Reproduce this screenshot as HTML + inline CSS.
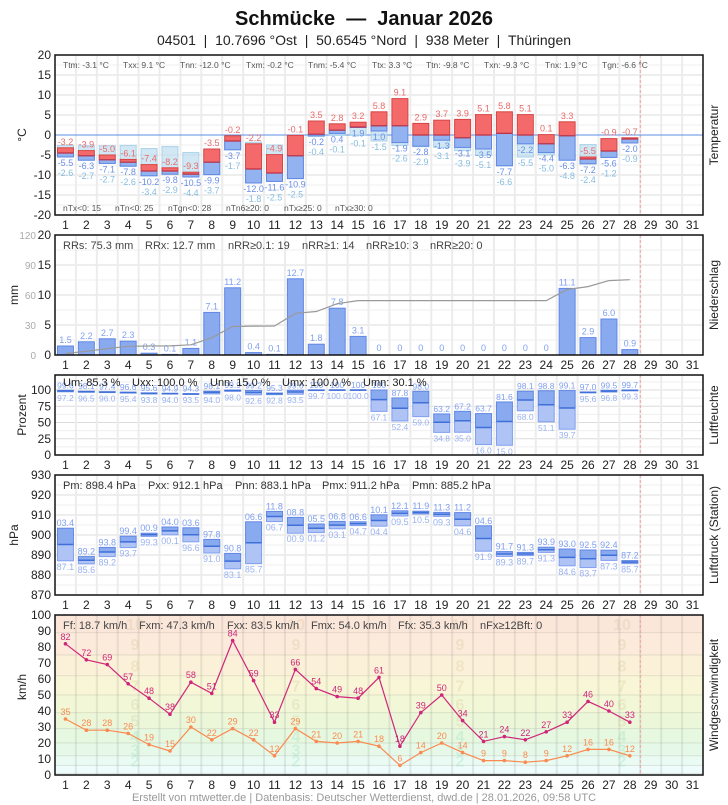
<!DOCTYPE html>
<html><head><meta charset="utf-8"><style>
html,body{margin:0;padding:0;background:#fff;}
svg{display:block;font-family:"Liberation Sans",sans-serif;}
</style></head><body>
<svg id="s" width="728" height="805" xmlns="http://www.w3.org/2000/svg"></svg>
<script>
const S=document.getElementById('s');let h='';
const L=55,R=703,CW=(R-L)/31;
const cx=d=>L+(d-0.5)*CW;
function t(x,y,s,o){o=o||{};h+=`<text x="${x}" y="${y}" font-size="${o.fs||11}" fill="${o.c||'#333'}" text-anchor="${o.a||'start'}"${o.fw?` font-weight="${o.fw}"`:''}${o.tr?` transform="${o.tr}"`:''}>${s}</text>`;}
function r(x,y,w,hh,f,st,sw){h+=`<rect x="${x}" y="${y}" width="${w}" height="${Math.max(hh,0.5)}" fill="${f}" stroke="${st||'none'}" stroke-width="${sw||1}"/>`;}
function ln(x1,y1,x2,y2,c,w,extra){h+=`<line x1="${x1}" y1="${y1}" x2="${x2}" y2="${y2}" stroke="${c}" stroke-width="${w||1}" ${extra||''}/>`;}
t(364,25,'Schmücke &#160;—&#160; Januar 2026',{fs:20,fw:'bold',a:'middle',c:'#111'});
t(364,45,'04501 &#160;| &#160;10.7696 °Ost &#160;| &#160;50.6545 °Nord &#160;| &#160;938 Meter &#160;| &#160;Thüringen',{fs:14,a:'middle',c:'#222'});
function panel(top,bot,vcol){
  for(let d=1;d<31;d++){ln(L+d*CW,top,L+d*CW,bot,vcol||'#ececec',2);}
  ln(L+28*CW,top,L+28*CW,bot,'#f4a0a0',1,'stroke-dasharray="3,2"');
}
function frame(top,bot){h+=`<rect x="${L}" y="${top}" width="${R-L}" height="${bot-top}" fill="none" stroke="#111" stroke-width="1.5"/>`;
 for(let d=1;d<=31;d++)t(cx(d),bot+14,d,{fs:12,a:'middle',c:'#222'});}
function ylab(x,y,s){t(x,y,s,{fs:12,a:'middle',tr:`rotate(-90 ${x} ${y})`,c:'#222'});}
function rlab(y,s){t(718,y,s,{fs:12,a:'middle',tr:`rotate(-90 718 ${y})`,c:'#222'});}
const BL='#6a8ee6';
{const top=55,bot=215,y=v=>135-v*4;
 for(let v=-20;v<=20;v+=2.5)ln(L,y(v),R,y(v),v%5==0?'#dcdcdc':'#efefef',1);
 panel(top,bot);
 ln(L,135,R,135,'#5b8ee6',1);
 const T=[[-3.2,-5.5,-2.6],[-3.9,-6.3,-2.7],[-5.0,-7.1,-2.7],[-6.1,-7.8,-2.6],[-7.4,-10.2,-3.4],[-8.2,-9.8,-2.9],[-9.3,-10.5,-4.4],[-3.5,-9.9,-3.7],[-0.2,-3.7,-1.7],[-2.2,-12.0,-1.8],[-4.9,-11.6,-2.5],[-0.1,-10.9,-2.5],[3.5,-0.2,-0.4],[2.8,0.4,-0.1],[3.2,1.9,-0.1],[5.8,1.0,-1.5],[9.1,-1.9,-2.6],[2.9,-2.8,-2.9],[3.7,-1.3,-3.1],[3.9,-3.1,-3.9],[5.1,-3.5,-5.1],[5.8,-7.7,-6.6],[5.1,-2.2,-5.5],[0.1,-4.4,-5.0],[3.3,-6.3,-4.8],[-5.5,-7.2,-2.4],[-0.9,-5.6,-1.2],[-0.7,-2.0,-0.9]];
 const M=[-4.5,-5.2,-6.2,-6.8,-9.0,-9.0,-9.8,-6.8,-1.5,-8.5,-9.5,-5.2,0.2,1.2,2.0,2.3,2.3,0.0,0.0,-0.7,0.0,0.4,0.0,-2.2,-0.2,-6.0,-4.0,-1.0];
 T.forEach((a,i)=>{const d=i+1,x=cx(d)-8,[mx,mn,g]=a,m=M[i];
  const lt=Math.max(g,mn),lb=Math.min(g,mn);
  r(x,y(lt),16,y(lb)-y(lt),'rgba(190,222,240,0.7)','#a9d2ea');
  r(x,y(mx),16,y(m)-y(mx),'#f46a6a','#d64545');
  r(x,y(m),16,y(mn)-y(m),'#93b2f0','#5f87e4');
  ln(x,y(m),x+16,y(m),'#c03040',1.2);
  t(cx(d),y(mx)-3,mx.toFixed(1),{fs:9,a:'middle',c:'#e86a6a'});
  const b1=y(mn)+9;t(cx(d),b1,mn.toFixed(1),{fs:9,a:'middle',c:BL});
  t(cx(d),Math.max(b1+10,y(g)+9),g.toFixed(1),{fs:9,a:'middle',c:'#86bde0'});
 });
 [['Ttm: -3.1 °C',63],['Txx: 9.1 °C',123],['Tnn: -12.0 °C',180],['Txm: -0.2 °C',246],['Tnm: -5.4 °C',308],['Ttx: 3.3 °C',372],['Ttn: -9.8 °C',426],['Txn: -9.3 °C',484],['Tnx: 1.9 °C',545],['Tgn: -6.6 °C',602]].forEach(a=>t(a[1],68,a[0],{fs:8.5,c:'#555'}));
 [['nTx&lt;0: 15',63],['nTn&lt;0: 25',115],['nTgn&lt;0: 28',168],['nTn6≥20: 0',226],['nTx≥25: 0',284],['nTx≥30: 0',335]].forEach(a=>t(a[1],211,a[0],{fs:8.5,c:'#555'}));
 for(let v=-20;v<=20;v+=5)t(51,y(v)+4,v,{fs:12,a:'end',c:'#222'});
 ylab(26,135,'°C');rlab(135,'Temperatur');frame(top,bot);}
{const top=235,bot=355,y=v=>355-v*6;
 for(let v=0;v<=20;v+=2.5)ln(L,y(v),R,y(v),v%5==0?'#dcdcdc':'#efefef',1);
 panel(top,bot);
 const P=[1.5,2.2,2.7,2.3,0.3,0.1,1.1,7.1,11.2,0.4,0.1,12.7,1.8,7.8,3.1,0,0,0,0,0,0,0,0,0,11.1,2.9,6.0,0.9];
 let c=0,pts=[];
 P.forEach((v,i)=>{const d=i+1;c+=v;pts.push(cx(d)+','+(355-c));
  if(v>0)r(cx(d)-8,y(v),16,y(0)-y(v),'#8aaaf0','#5f87e4');
  t(cx(d),v>0?y(v)-3:351,v==0?'0':v.toFixed(1),{fs:9,a:'middle',c:'#7f9ff0'});});
 h+=`<polyline points="${pts.join(' ')}" fill="none" stroke="#999" stroke-width="1.2"/>`;
 [['RRs: 75.3 mm',63],['RRx: 12.7 mm',145],['nRR≥0.1: 19',228],['nRR≥1: 14',302],['nRR≥10: 3',366],['nRR≥20: 0',430]].forEach(a=>t(a[1],249,a[0],{fs:11,c:'#444'}));
 for(let v=0;v<=20;v+=5)t(51,y(v)+4,v,{fs:12,a:'end',c:'#222'});
 for(let v=0;v<=120;v+=30)t(36,355-v+4,v,{fs:10,a:'end',c:'#aaa'});
 ylab(18,295,'mm');rlab(295,'Niederschlag');frame(top,bot);}
{const top=375,bot=455,y=v=>455-v*0.65;
 for(let v=0;v<=120;v+=12.5)if(y(v)>top)ln(L,y(v),R,y(v),v%25==0?'#dcdcdc':'#efefef',1);
 panel(top,bot);
 const U=[[99.6,97.2],[98.1,96.5],[97.4,96.0],[96.6,95.4],[95.6,93.8],[94.9,94.0],[94.3,93.5],[98.1,94.0],[99.9,98.0],[99.2,92.6],[95.3,92.8],[99.6,93.5],[100,99.7],[100,100.0],[100,100.0],[100,67.1],[87.8,52.4],[98.0,59.0],[63.2,34.8],[67.2,35.0],[63.7,16.0],[81.6,15.0],[98.1,68.0],[98.8,51.1],[99.1,39.7],[97.0,95.6],[99.5,96.8],[99.7,99.3]];
 U.forEach((a,i)=>{const d=i+1,x=cx(d)-8,[mx,mn]=a,m=mn+(mx-mn)*0.55;
  r(x,y(mx),16,y(m)-y(mx),'#8aaaf0','#5f87e4');
  r(x,y(m),16,y(mn)-y(m),'#afc4f4','#7f9ff0');
  ln(x,y(m),x+16,y(m),'#3f6fd8',1.5);
  t(cx(d),y(mx)-2,mx==100?'100':mx.toFixed(1),{fs:8.5,a:'middle',c:'#7f9ff0'});
  t(cx(d),y(mn)+9,mn.toFixed(1),{fs:8.5,a:'middle',c:'#9ab2f0'});});
 [['Um: 85.3 %',63],['Uxx: 100.0 %',132],['Unn: 15.0 %',210],['Umx: 100.0 %',282],['Umn: 30.1 %',363]].forEach(a=>t(a[1],386,a[0],{fs:11,c:'#222'}));
 for(let v=0;v<=100;v+=25)t(51,y(v)+4,v,{fs:12,a:'end',c:'#222'});
 ylab(26,415,'Prozent');rlab(415,'Luftfeuchte');frame(top,bot);}
{const top=475,bot=595,y=v=>475+(930-v)*2;
 for(let v=870;v<=930;v+=5)ln(L,y(v),R,y(v),v%10==0?'#dcdcdc':'#efefef',1);
 panel(top,bot);
 const Pr=[[903.4,887.1],[889.2,885.6],[893.8,889.2],[899.4,893.7],[900.9,899.3],[904.0,900.1],[903.6,896.6],[897.8,891.0],[890.8,883.1],[906.6,885.7],[911.8,906.7],[908.8,900.9],[905.5,901.2],[906.8,903.1],[906.6,904.7],[910.1,904.4],[912.1,909.5],[911.9,910.5],[911.3,909.3],[911.2,904.6],[904.6,891.9],[891.7,889.3],[891.3,889.7],[893.9,891.3],[893.0,884.6],[892.5,883.7],[892.4,887.3],[887.2,885.7]];
 const f=v=>v>=900?(v-900).toFixed(1).padStart(4,'0'):(v-800).toFixed(1);
 Pr.forEach((a,i)=>{const d=i+1,x=cx(d)-8,[mx,mn]=a,m=(mx+mn)/2;
  r(x,y(mx),16,y(m)-y(mx),'#8aaaf0','#5f87e4');
  r(x,y(m),16,y(mn)-y(m),'#afc4f4','#7f9ff0');
  ln(x,y(m),x+16,y(m),'#3f6fd8',1.5);
  t(cx(d),y(mx)-2,f(mx),{fs:9,a:'middle',c:'#7f9ff0'});
  t(cx(d),y(mn)+9,f(mn),{fs:9,a:'middle',c:'#9ab2f0'});});
 [['Pm: 898.4 hPa',63],['Pxx: 912.1 hPa',148],['Pnn: 883.1 hPa',235],['Pmx: 911.2 hPa',322],['Pmn: 885.2 hPa',412]].forEach(a=>t(a[1],489,a[0],{fs:11,c:'#333'}));
 for(let v=870;v<=930;v+=10)t(51,y(v)+4,v,{fs:12,a:'end',c:'#222'});
 ylab(18,535,'hPa');rlab(535,'Luftdruck (Station)');frame(top,bot);}
{const top=615,bot=775,y=v=>775-v*1.6;
 const B=[0,1,6,12,20,29,39,50,62,75,89,100];
 const C=['#eefcfc','#eefcfc','#eafbf4','#e6f9e8','#e6f8e0','#ecf7da','#f2f7d8','#f8f6d6','#fbf1d8','#fcebdb','#fbe6da'];
 for(let i=0;i<11;i++)r(L,y(B[i+1]),R-L,y(B[i])-y(B[i+1]),C[i]);
 for(let i=1;i<11;i++)ln(L,y(B[i]),R,y(B[i]),'rgba(120,120,100,0.18)',1);
 panel(top,bot,'rgba(120,120,120,0.15)');
 [135,296,460,622].forEach(x=>{for(let n=2;n<=10;n++){const yy=(y(B[n])+y(B[n+1]))/2+6;
   t(x,yy,n,{fs:16,fw:'bold',a:'middle',c:n<=4?'rgba(120,210,170,0.22)':'rgba(190,170,110,0.18)'});}});
 const Fx=[82,72,69,57,48,38,58,51,84,59,33,66,54,49,48,61,18,39,50,34,21,24,22,27,33,46,40,33];
 const Ff=[35,28,28,26,19,15,30,22,29,22,12,29,21,20,21,18,6,14,20,14,9,9,8,9,12,16,16,12];
 [[Fx,'#d0267a'],[Ff,'#fa8a50']].forEach(([A,c])=>{
  h+=`<polyline points="${A.map((v,i)=>cx(i+1)+','+y(v)).join(' ')}" fill="none" stroke="${c}" stroke-width="1.2"/>`;
  A.forEach((v,i)=>{h+=`<circle cx="${cx(i+1)}" cy="${y(v)}" r="1.8" fill="${c}"/>`;t(cx(i+1),y(v)-4,v,{fs:9,a:'middle',c:c});});});
 [['Ff: 18.7 km/h',63],['Fxm: 47.3 km/h',139],['Fxx: 83.5 km/h',227],['Fmx: 54.0 km/h',311],['Ffx: 35.3 km/h',398],['nFx≥12Bft: 0',480]].forEach(a=>t(a[1],629,a[0],{fs:11,c:'#444'}));
 for(let v=0;v<=100;v+=10)t(51,y(v)+4,v,{fs:12,a:'end',c:'#222'});
 ylab(26,687,'km/h');rlab(695,'Windgeschwindigkeit');frame(top,bot);}
t(364,801,'Erstellt von mtwetter.de | Datenbasis: Deutscher Wetterdienst, dwd.de | 28.01.2026, 09:58 UTC',{fs:11,a:'middle',c:'#999'});
S.innerHTML=h;
</script>
</body></html>
